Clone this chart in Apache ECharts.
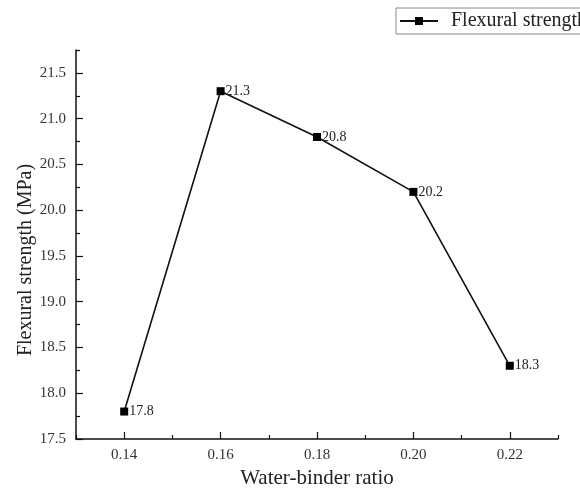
<!DOCTYPE html>
<html>
<head>
<meta charset="utf-8">
<script src="https://cdn.jsdelivr.net/npm/echarts@6/dist/echarts.min.js"></script>
<style>html,body{margin:0;padding:0;background:#fff}#c{width:580px;height:494px}</style>
</head>
<body>
<div id="c"></div>
<script>
var ratios = [0.14, 0.16, 0.18, 0.20, 0.22];
var strength = [17.8, 21.3, 20.8, 20.2, 18.3];
var xMajorTicks = [0.14, 0.16, 0.18, 0.20, 0.22];
var xMinorTicks = [0.13, 0.15, 0.17, 0.19, 0.21, 0.23];
var yMajorTicks = [17.5, 18.0, 18.5, 19.0, 19.5, 20.0, 20.5, 21.0, 21.5];
var yMinorTicks = [17.75, 18.25, 18.75, 19.25, 19.75, 20.25, 20.75, 21.25, 21.75];

var FONT = '"Liberation Serif", "Times New Roman", serif';
var chart = echarts.init(document.getElementById('c'));
var axisCommon = {
  type: 'value',
  splitLine: {show: false}
};
chart.setOption({
  animation: false,
  grid: {left: 76, right: 22, top: 50, bottom: 54, containLabel: false},
  legend: {
    data: ['Flexural strength'],
    left: 396, top: 8,
    padding: [3, 6, 3, 3],
    itemWidth: 38, itemHeight: 10,
    borderColor: '#888', borderWidth: 1,
    textStyle: {fontFamily: FONT, fontSize: 20, color: '#222', padding: [0, 0, 0, 8]}
  },
  graphic: [{
    type: 'text',
    x: 26, y: 260,
    rotation: Math.PI / 2,
    style: {text: 'Flexural strength (MPa)', fontFamily: FONT, fontSize: 20, fill: '#222',
      align: 'center', verticalAlign: 'middle'}
  }],
  xAxis: [
    Object.assign({}, axisCommon, {
      min: 0.13, max: 0.23,
      name: 'Water-binder ratio', nameLocation: 'middle', nameGap: 29,
      nameTextStyle: {fontFamily: FONT, fontSize: 21, color: '#222'},
      axisLine: {show: true, lineStyle: {color: '#111', width: 1.5}},
      axisTick: {show: true, inside: true, length: 7, customValues: xMajorTicks, lineStyle: {color: '#111', width: 1.2}},
      axisLabel: {show: true, customValues: xMajorTicks, margin: 9, fontFamily: FONT, fontSize: 15, color: '#333',
        formatter: function (v) { return v.toFixed(2); }}
    }),
    Object.assign({}, axisCommon, {
      min: 0.13, max: 0.23, position: 'bottom',
      axisLine: {show: false},
      axisTick: {show: true, inside: true, length: 4, customValues: xMinorTicks, lineStyle: {color: '#111', width: 1.2}},
      axisLabel: {show: false}
    })
  ],
  yAxis: [
    Object.assign({}, axisCommon, {
      min: 17.5, max: 21.75,
      axisLine: {show: true, lineStyle: {color: '#111', width: 1.5}},
      axisTick: {show: true, inside: true, length: 7, customValues: yMajorTicks, lineStyle: {color: '#111', width: 1.2}},
      axisLabel: {show: true, customValues: yMajorTicks, margin: 10, fontFamily: FONT, fontSize: 15, color: '#333',
        formatter: function (v) { return v.toFixed(1); }}
    }),
    Object.assign({}, axisCommon, {
      min: 17.5, max: 21.75, position: 'left',
      axisLine: {show: false},
      axisTick: {show: true, inside: true, length: 4, customValues: yMinorTicks, lineStyle: {color: '#111', width: 1.2}},
      axisLabel: {show: false}
    })
  ],
  series: [{
    name: 'Flexural strength',
    type: 'line',
    xAxisIndex: 0, yAxisIndex: 0,
    data: ratios.map(function (r, i) { return [r, strength[i]]; }),
    symbol: 'rect', symbolSize: 8,
    itemStyle: {color: '#000'},
    lineStyle: {color: '#111', width: 1.6},
    label: {show: true, position: 'right', distance: 1, fontFamily: FONT, fontSize: 14, color: '#222',
      formatter: function (p) { return p.value[1].toFixed(1); }}
  }]
});
</script>
</body>
</html>
